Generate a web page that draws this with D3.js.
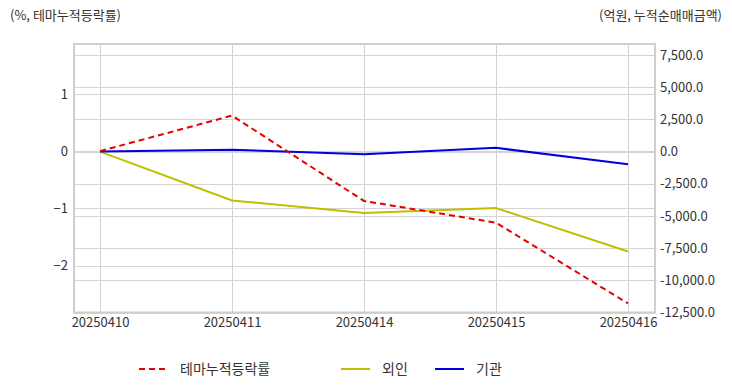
<!DOCTYPE html>
<html><head><meta charset="utf-8">
<script src="https://cdn.jsdelivr.net/npm/d3@7"></script>
<style>body{margin:0;background:#fff}svg{display:block;font-family:"Noto Sans CJK KR","Noto Sans",sans-serif}</style>
</head><body><svg id="c" width="732" height="392"></svg>
<script>
const categories = ["20250410","20250411","20250414","20250415","20250416"];
const themeRate = [0, 0.62, -0.87, -1.25, -2.66];
const foreign = [0, -3800, -4770, -4390, -7760];
const institution = [0, 150, -200, 290, -990];
const leftTicks = [1, 0, -1, -2];
const rightTicks = [7500, 5000, 2500, 0, -2500, -5000, -7500, -10000, -12500];
const seriesNames = ["테마누적등락률", "외인", "기관"];
const seriesColors = ["#e60000", "#bfbf00", "#0000e0"];

const svg = d3.select("#c");
const L = 74, R = 655, T = 44, B = 312.5;
const x = d3.scalePoint().domain(categories).range([100, 628]);
const yL = d3.scaleLinear().domain([-2.818, 1.87]).range([B, T]);
const yR = d3.scaleLinear().domain([-12500, 8360]).range([B, T]);

// grid
const g = svg.append("g");
g.selectAll(".hl").data(leftTicks).join("line")
  .attr("x1", L).attr("x2", R).attr("y1", d => Math.round(yL(d))+0.5).attr("y2", d => Math.round(yL(d))+0.5)
  .attr("stroke", "#d4d4d4");
g.selectAll(".hr").data(rightTicks).join("line")
  .attr("x1", L).attr("x2", R).attr("y1", d => Math.round(yR(d))+0.5).attr("y2", d => Math.round(yR(d))+0.5)
  .attr("stroke", "#d4d4d4");
g.selectAll(".v").data(categories).join("line")
  .attr("x1", d => Math.round(x(d))+0.5).attr("x2", d => Math.round(x(d))+0.5).attr("y1", T).attr("y2", B)
  .attr("stroke", "#d4d4d4");
svg.append("rect").attr("x", L).attr("y", T).attr("width", R-L).attr("height", B-T)
  .attr("fill", "none").attr("stroke", "#cfcfcf").attr("stroke-width", 2);

// axes
const axL = svg.append("g").attr("transform", `translate(${L},0)`)
  .call(d3.axisLeft(yL).tickValues(leftTicks).tickSize(0).tickPadding(6).tickFormat(d3.format("d")));
const axR = svg.append("g").attr("transform", `translate(${R},0)`)
  .call(d3.axisRight(yR).tickValues(rightTicks).tickSize(0).tickPadding(5).tickFormat(d3.format(",.1f")));
const axB = svg.append("g").attr("transform", `translate(0,${B})`)
  .call(d3.axisBottom(x).tickSize(0).tickPadding(5));
[axL, axR, axB].forEach(a => {
  a.select(".domain").remove();
  a.selectAll("text").attr("fill", "#333").style("font-size", "13px").style("font-family", '"Noto Sans CJK KR",sans-serif');
});
axR.selectAll("text").text(d => d < 0 ? "-" + d3.format(",.1f")(-d) : d3.format(",.1f")(d));

// lines
const lineL = d3.line().x((d, i) => x(categories[i])).y(d => yL(d));
const lineR = d3.line().x((d, i) => x(categories[i])).y(d => yR(d));
svg.append("path").datum(foreign).attr("d", lineR).attr("fill", "none").attr("stroke", seriesColors[1]).attr("stroke-width", 2);
svg.append("path").datum(institution).attr("d", lineR).attr("fill", "none").attr("stroke", seriesColors[2]).attr("stroke-width", 2);
svg.append("path").datum(themeRate).attr("d", lineL).attr("fill", "none").attr("stroke", seriesColors[0]).attr("stroke-width", 2).attr("stroke-dasharray", "6,4");

// titles
svg.append("text").attr("x", 10).attr("y", 20).attr("fill", "#333").style("font-size", "13px").text("(%, 테마누적등락률)");
svg.append("text").attr("x", 722).attr("y", 20).attr("text-anchor", "end").attr("fill", "#333").style("font-size", "13px").text("(억원, 누적순매매금액)");

// legend
const legX = [139, 341, 435];
const lg = svg.append("g");
seriesNames.forEach((n, i) => {
  lg.append("line").attr("x1", legX[i]).attr("x2", legX[i] + 29).attr("y1", 369).attr("y2", 369)
    .attr("stroke", seriesColors[i]).attr("stroke-width", 2).attr("stroke-dasharray", i === 0 ? "6,4" : null);
  lg.append("text").attr("x", legX[i] + 41).attr("y", 374).attr("fill", "#333").style("font-size", "14px").text(n);
});
</script></body></html>
